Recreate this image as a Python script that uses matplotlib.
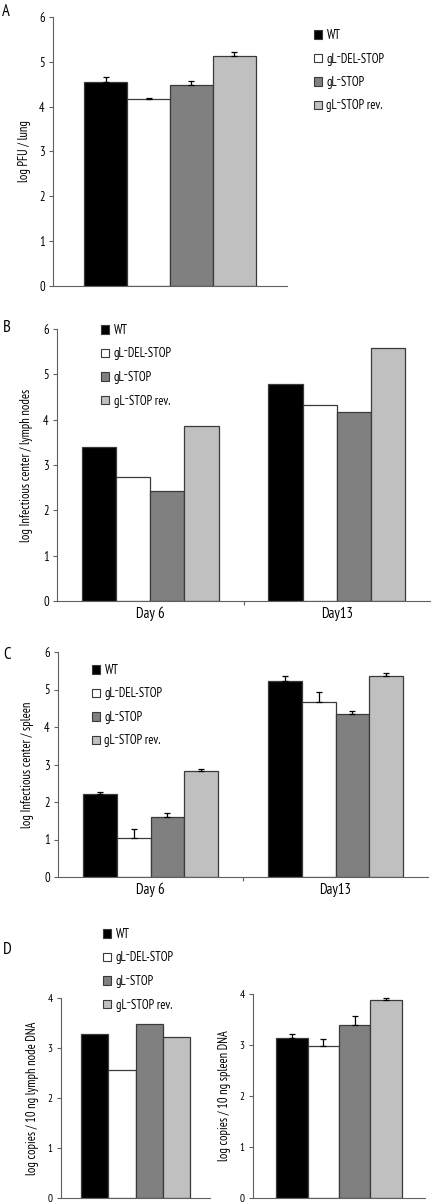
import matplotlib
matplotlib.use("Agg")
import matplotlib.pyplot as plt
from matplotlib.patches import Patch
import numpy as np

plt.rcParams["font.family"] = ["PT Sans Narrow", "Roboto Condensed", "Open Sans Condensed", "DejaVu Sans"]

strains = ["WT", "gL\u207bDEL-STOP", "gL\u207bSTOP", "gL\u207bSTOP rev."]
colors = ["#000000", "#ffffff", "#808080", "#c0c0c0"]
days = ["Day 6", "Day13"]

# panel A: lung titres
lung = [4.54, 4.17, 4.49, 5.13]
lung_err = [0.13, 0.03, 0.08, 0.10]

# panel B: lymph node infectious centres (no error bars)
lymph_day6 = [3.40, 2.74, 2.43, 3.86]
lymph_day13 = [4.78, 4.33, 4.17, 5.57]

# panel C: spleen infectious centres
spleen_day6 = [2.21, 1.05, 1.60, 2.82]
spleen_day6_err = [0.06, 0.23, 0.10, 0.05]
spleen_day13 = [5.24, 4.68, 4.34, 5.35]
spleen_day13_err = [0.12, 0.25, 0.08, 0.09]

# panel D: viral genome copies
lymph_dna = [3.28, 2.56, 3.48, 3.22]
spleen_dna = [3.13, 2.98, 3.40, 3.88]
spleen_dna_err = [0.08, 0.13, 0.17, 0.05]

W, H = 434, 1204
fig = plt.figure(figsize=(W / 100, H / 100), dpi=100)
fig.patch.set_facecolor("white")


def add_axes(left, right, top, bottom):
    return fig.add_axes([left / W, 1 - bottom / H, (right - left) / W, (bottom - top) / H])


def draw_bars(ax, groups, errors=None, ymax=6, xticks=None, ticksize=9):
    width = 0.183
    offsets = (np.arange(4) - 1.5) * width
    for g, values in enumerate(groups):
        for i, v in enumerate(values):
            ax.bar(g + offsets[i], v, width, color=colors[i], edgecolor="#3a3a3a",
                   linewidth=0.9, zorder=2)
            if errors is not None:
                e = errors[g][i]
                ax.errorbar(g + offsets[i], v, yerr=[[0], [e]], color="black",
                            linewidth=0.9, capsize=2.5, capthick=0.9, zorder=3)
    ax.set_xlim(-0.5, len(groups) - 0.5)
    ax.set_ylim(0, ymax)
    ax.set_yticks(range(ymax + 1))
    for spine in ["top", "right"]:
        ax.spines[spine].set_visible(False)
    for spine in ["left", "bottom"]:
        ax.spines[spine].set_color("#606060")
        ax.spines[spine].set_linewidth(0.8)
    ax.tick_params(axis="y", labelsize=ticksize, length=3, width=0.8, color="#606060", pad=3)
    if xticks:
        ax.set_xticks([0.5])
        ax.set_xticklabels([])
        ax.set_xticks(range(len(groups)), labels=xticks, minor=True)
        ax.tick_params(axis="x", which="major", length=3, width=0.8, color="#606060")
        ax.tick_params(axis="x", which="minor", length=0, labelsize=10.5, pad=4)
    else:
        ax.set_xticks([])


def add_legend(x, y):
    handles = [Patch(facecolor=c, edgecolor="#3a3a3a", linewidth=0.8) for c in colors]
    fig.legend(handles, strains, loc="upper left", bbox_to_anchor=(x / W, 1 - y / H),
               frameon=False, fontsize=9, handlelength=0.65, handleheight=0.65,
               handletextpad=0.35, labelspacing=0.84, borderpad=0, borderaxespad=0)


# A
ax_a = add_axes(53, 287, 17, 286)
draw_bars(ax_a, [lung], [lung_err])
ax_a.set_ylabel("log PFU / lung", fontsize=9, labelpad=6)
add_legend(314, 29)
fig.text(2 / W, 1 - 16 / H, "A", fontsize=12)

# B
ax_b = add_axes(57, 430, 329, 601)
draw_bars(ax_b, [lymph_day6, lymph_day13], xticks=days)
ax_b.set_ylabel("log Infectious center / lymph nodes", fontsize=9, labelpad=7)
add_legend(101, 324)
fig.text(3 / W, 1 - 332 / H, "B", fontsize=12)

# C
ax_c = add_axes(58, 428, 652, 877)
draw_bars(ax_c, [spleen_day6, spleen_day13], [spleen_day6_err, spleen_day13_err], xticks=days)
ax_c.set_ylabel("log Infectious center / spleen", fontsize=9, labelpad=7)
add_legend(92, 664)
fig.text(3 / W, 1 - 659 / H, "C", fontsize=12)

# D
ax_d1 = add_axes(61, 210, 998, 1198)
draw_bars(ax_d1, [lymph_dna], ymax=4, ticksize=8)
ax_d1.set_ylabel("log copies / 10 ng lymph node DNA", fontsize=9, labelpad=6)
ax_d2 = add_axes(253, 425, 994, 1198)
draw_bars(ax_d2, [spleen_dna], [spleen_dna_err], ymax=4, ticksize=8)
ax_d2.set_ylabel("log copies / 10 ng spleen DNA", fontsize=9, labelpad=6)
add_legend(103, 928)
fig.text(3 / W, 1 - 954 / H, "D", fontsize=12)

fig.savefig("out.png", dpi=100)
